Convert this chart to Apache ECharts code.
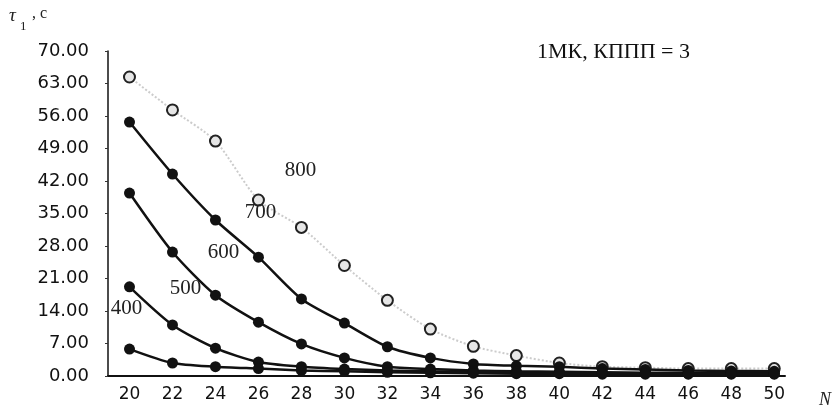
<!DOCTYPE html>
<html>
<head>
<meta charset="utf-8">
<title>τ1 vs N</title>
<script src="https://cdn.jsdelivr.net/npm/echarts@6/dist/echarts.min.js"></script>
<style>
  html, body { margin: 0; padding: 0; background: #fff; }
  #chart { width: 834px; height: 410px; }
</style>
</head>
<body>
<div id="chart"></div>
<script>
// Number of elements N along the horizontal axis
const nValues = [20, 22, 24, 26, 28, 30, 32, 34, 36, 38, 40, 42, 44, 46, 48, 50];

// τ1, c for each curve
const tau800 = [64.4, 57.3, 50.6, 37.9, 32.0, 23.8, 16.3, 10.1, 6.4, 4.4, 2.8, 2.0, 1.8, 1.6, 1.6, 1.6];
const tau700 = [54.7, 43.5, 33.6, 25.6, 16.6, 11.4, 6.3, 3.9, 2.6, 2.2, 2.0, 1.6, 1.4, 1.2, 1.1, 1.0];
const tau600 = [39.4, 26.7, 17.4, 11.6, 6.9, 3.9, 2.0, 1.5, 1.2, 1.0, 0.9, 0.8, 0.7, 0.7, 0.6, 0.6];
const tau500 = [19.2, 11.0, 6.0, 3.0, 2.0, 1.5, 1.2, 1.0, 0.9, 0.8, 0.7, 0.6, 0.6, 0.5, 0.5, 0.5];
const tau400 = [5.8, 2.8, 2.0, 1.6, 1.2, 1.0, 0.8, 0.7, 0.6, 0.5, 0.5, 0.4, 0.4, 0.4, 0.4, 0.4];

const curveNames = ['800', '700', '600', '500', '400'];
const yTicks = [0, 7, 14, 21, 28, 35, 42, 49, 56, 63, 70];

const SERIF = '"Liberation Serif", "DejaVu Serif", serif';
const SANS = '"DejaVu Sans", "Liberation Sans", sans-serif';

// curve label: which point carries it, and where the text sits from it
const labelAt = {
  '800': { idx: 3, offset: [42, -30] },
  '700': { idx: 3, offset: [2, -45] },
  '600': { idx: 2, offset: [8, -43] },
  '500': { idx: 1, offset: [13, -36] },
  '400': { idx: 0, offset: [-3, -41] }
};

function buildData(name, values) {
  const cfg = labelAt[name];
  return values.map((v, i) => {
    if (i !== cfg.idx) return [nValues[i], v];
    return {
      value: [nValues[i], v],
      label: {
        show: true,
        position: 'inside',
        offset: cfg.offset,
        formatter: name,
        fontFamily: SERIF,
        fontSize: 21,
        color: '#222'
      }
    };
  });
}

function filledSeries(name, values) {
  return {
    name: name,
    type: 'line',
    smooth: 0.25,
    data: buildData(name, values),
    symbol: 'circle',
    symbolSize: 11,
    lineStyle: { color: '#111', width: 2.5 },
    itemStyle: { color: '#111', borderColor: '#111', borderWidth: 0 },
    z: 3
  };
}

const chart = echarts.init(document.getElementById('chart'), null, { renderer: 'canvas' });

chart.setOption({
  backgroundColor: '#ffffff',
  animation: false,
  grid: { left: 108, right: 49, top: 51, bottom: 34, containLabel: false },
  xAxis: {
    type: 'value',
    min: 19,
    max: 50.5,
    splitLine: { show: false },
    axisLine: { show: true, onZero: false, lineStyle: { color: '#111', width: 2 } },
    axisTick: { show: false },
    axisLabel: {
      customValues: nValues,
      margin: 10,
      fontFamily: SANS,
      fontSize: 17,
      color: '#111'
    }
  },
  yAxis: {
    type: 'value',
    min: 0,
    max: 70,
    interval: 7,
    splitLine: { show: false },
    axisLine: { show: true, lineStyle: { color: '#111', width: 1.5 } },
    axisTick: { show: true, length: 3, lineStyle: { color: '#333' } },
    axisLabel: {
      margin: 19,
      fontFamily: SANS,
      fontSize: 18,
      color: '#111',
      formatter: v => yTicks.indexOf(v) >= 0 ? v.toFixed(2) : ''
    }
  },
  series: [
    {
      name: curveNames[0],
      type: 'line',
      smooth: 0.25,
      data: buildData('800', tau800),
      symbol: 'circle',
      symbolSize: 11,
      lineStyle: { color: '#cccccc', width: 2, type: 'dotted' },
      itemStyle: { color: '#e6e6e6', borderColor: '#222', borderWidth: 2 },
      z: 2
    },
    filledSeries('700', tau700),
    filledSeries('600', tau600),
    filledSeries('500', tau500),
    filledSeries('400', tau400)
  ],
  graphic: [
    {
      type: 'text', left: 9, top: 6,
      style: { text: 'τ', font: 'italic 19px ' + SERIF, fill: '#222' }
    },
    {
      type: 'text', left: 20, top: 20,
      style: { text: '1', font: '13px ' + SERIF, fill: '#222' }
    },
    {
      type: 'text', left: 32, top: 6,
      style: { text: ', c', font: '16px ' + SERIF, fill: '#222' }
    },
    {
      type: 'text', left: 537, top: 41,
      style: { text: '1МК, КППП = 3', font: '22px ' + SERIF, fill: '#111' }
    },
    {
      type: 'text', left: 819, top: 391,
      style: { text: 'N', font: 'italic 18px ' + SERIF, fill: '#222' }
    }
  ]
});
</script>
</body>
</html>
